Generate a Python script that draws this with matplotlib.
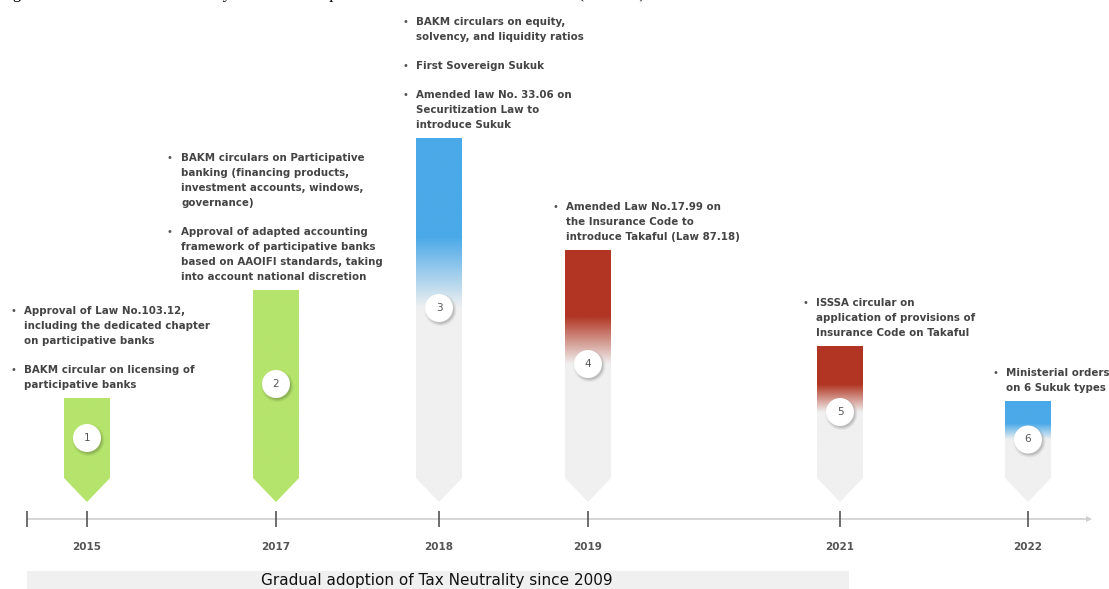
import numpy as np
import matplotlib
matplotlib.use("Agg")
import matplotlib.pyplot as plt
from matplotlib.patches import Polygon, Circle, Rectangle
from matplotlib.colors import to_rgb

# ---- content -------------------------------------------------------------
years = ["2015", "2017", "2018", "2019", "2021", "2022"]
milestone_ids = ["1", "2", "3", "4", "5", "6"]
bar_heights = [104, 212, 364, 252, 156, 101]
bar_colors = ["#b5e46c", "#b5e46c", "#4aa9e8", "#b13522", "#b13522", "#4aa9e8"]
fade_to_grey = [False, False, True, True, True, True]

events = [
    [["Approval of Law No.103.12,", "including the dedicated chapter", "on participative banks"],
     ["BAKM circular on licensing of", "participative banks"]],
    [["BAKM circulars on Participative", "banking (financing products,",
      "investment accounts, windows,", "governance)"],
     ["Approval of adapted accounting", "framework of participative banks",
      "based on AAOIFI standards, taking", "into account national discretion"]],
    [["BAKM circulars on equity,", "solvency, and liquidity ratios"],
     ["First Sovereign Sukuk"],
     ["Amended law No. 33.06 on", "Securitization Law to", "introduce Sukuk"]],
    [["Amended Law No.17.99 on", "the Insurance Code to", "introduce Takaful (Law 87.18)"]],
    [["ISSSA circular on", "application of provisions of", "Insurance Code on Takaful"]],
    [["Ministerial orders", "on 6 Sukuk types"]],
]

band_label = "Gradual adoption of Tax Neutrality since 2009"
caption = ("Figure 4: Timeline of the main key reform developments in "
           "Morocco's Islamic finance (2015-22)")

# ---- layout ----------------------------------------------------------------
W, H = 1109, 589
x_centers = [87, 276, 439, 588, 840, 1028]
text_left = [24, 181, 416, 566, 816, 1006]
bar_w = 46
chevron = 24
axis_y = -17
grey = "#f0f0f0"
text_col = "#444444"

fig = plt.figure(figsize=(W / 100, H / 100), dpi=100)
ax = fig.add_axes([0, 0, 1, 1])
ax.axis("off")

for xc, h, col, fade, num in zip(x_centers, bar_heights, bar_colors,
                                 fade_to_grey, milestone_ids):
    l, r = xc - bar_w / 2, xc + bar_w / 2
    poly = Polygon([(l, h), (r, h), (r, chevron), (xc, 0), (l, chevron)],
                   closed=True, facecolor="none", edgecolor="none")
    ax.add_patch(poly)
    cy = (h + chevron) / 2
    n = 400
    ys = np.linspace(0, h, n)
    c_top = np.array(to_rgb(col))
    c_bot = np.array(to_rgb(grey))
    if fade:
        solid_from = cy + 0.42 * (h - cy)
        t = np.clip((ys - cy) / (solid_from - cy), 0, 1)
    else:
        t = np.ones_like(ys)
    rgb = c_bot[None, :] * (1 - t[:, None]) + c_top[None, :] * t[:, None]
    img = np.repeat(rgb[:, None, :], 2, axis=1)
    im = ax.imshow(img, extent=[l, r, 0, h], origin="lower", aspect="auto",
                   interpolation="bilinear", zorder=2)
    im.set_clip_path(poly)

    # numbered badge with a soft shadow
    for k, a in enumerate([0.05, 0.07, 0.10]):
        ax.add_patch(Circle((xc + 1.5, cy - 2), 16 - k * 1.2,
                            facecolor=(0, 0, 0, a), edgecolor="none", zorder=3))
    ax.add_patch(Circle((xc, cy), 14, facecolor="white", edgecolor="none", zorder=4))
    ax.text(xc, cy, num, ha="center", va="center", fontsize=7.5,
            color="#555555", zorder=5)

# event descriptions stacked above each bar
line_step = 15
item_gap = 29
for tx, h, items in zip(text_left, bar_heights, events):
    y = h + 13
    positions = []
    for item in reversed(items):
        ys_item = []
        for line in reversed(item):
            ys_item.append((y, line))
            y += line_step
        positions.append(list(reversed(ys_item)))
        y += item_gap - line_step
    for item_lines in positions:
        for i, (yy, line) in enumerate(item_lines):
            ax.text(tx, yy, line, ha="left", va="center", fontsize=7.4,
                    color=text_col, fontweight="bold")
            if i == 0:
                ax.text(tx - 14, yy, "\u2022", ha="left", va="center",
                        fontsize=7, color="#555555")

# time axis
ax.plot([27, 1086], [axis_y, axis_y], color="#cfcfcf", lw=1.2, zorder=1)
ax.add_patch(Polygon([(1086, axis_y + 3), (1092, axis_y), (1086, axis_y - 3)],
                     closed=True, facecolor="#cfcfcf", edgecolor="none"))
ax.vlines([27] + x_centers, axis_y - 8, axis_y + 8, color="#555555", lw=1.2)
for xc, yr in zip(x_centers, years):
    ax.text(xc, -45, yr, ha="center", va="center", fontsize=7.5,
            fontweight="bold", color="#555555")

# tax neutrality band
ax.add_patch(Rectangle((27, -87), 822, 18, facecolor=grey, edgecolor="none"))
ax.text(437, -79, band_label, ha="center", va="center", fontsize=11,
        color="#111111")

# caption (runs off the top edge)
ax.text(-1, 503.5, caption, ha="left", va="baseline", fontsize=12,
        family="Liberation Serif", color="black", clip_on=False)

ax.set_xlim(0, W)
ax.set_ylim(-87, 502)
fig.savefig("out.png", dpi=100)
